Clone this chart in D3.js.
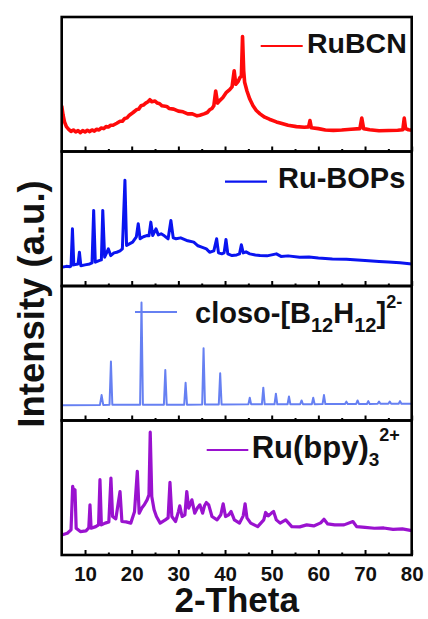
<!DOCTYPE html>
<html><head><meta charset="utf-8">
<script src="https://cdn.jsdelivr.net/npm/d3@7"></script>
<style>
html,body{margin:0;padding:0;background:#fff;}
svg{display:block;font-family:"Liberation Sans",Arial,sans-serif;}
</style></head>
<body>
<svg id="chart" width="428" height="619"></svg>
<script>
// ---------------- data (2-theta, intensity a.u. 0-100 per panel) ----------------
const seriesNames = ["RuBCN", "Ru-BOPs", "closo", "Ru(bpy)3"];
const seriesColors = ["#ff0a0a", "#0a14f0", "#6680f2", "#9a12cf"];

const rubcn = [[5,34],[5.3,27],[5.6,22],[6,18.5],[6.5,16.5],[7,15],[7.5,16],[8,14.5],[8.5,15.5],[9,14],[9.5,15.5],[10,14.5],[10.5,15.8],[11,14.8],[11.5,16],[12,15.2],[12.5,16.5],[13,16],[13.5,17.5],[14,17],[14.5,18.5],[15,18.2],[15.5,19.5],[16,19.5],[16.8,21],[17.5,22.5],[18,22.5],[18.5,24.5],[19,25],[19.5,27],[20.3,29],[21,31],[21.5,31.5],[22,34],[22.5,34.5],[23,36],[23.5,37],[23.9,38.5],[24.3,37],[25,37.5],[25.5,36],[26,35.5],[26.5,34],[27.5,33.5],[28,32],[29,31.5],[30,30],[31,29.5],[32,28],[33,28],[34,26.5],[34.6,27],[35.5,28],[36.2,29],[36.7,31],[37.2,32],[37.6,34],[38,45],[38.4,36],[38.9,38],[39.5,40],[40.3,44],[41,46],[41.5,48],[41.96,60],[42.3,50],[42.8,52],[43.2,55],[43.5,56],[43.75,85.5],[44,60],[44.2,51.5],[44.7,45],[45.3,39],[46,34],[46.7,30.5],[47.5,28],[48.5,25.5],[49.5,24],[51,22],[52,21],[53.5,19.5],[55.3,18.5],[57,18],[57.9,18.3],[58.2,23],[58.5,17.6],[60,17],[61.5,16],[63.2,15.7],[65,16],[67,16.5],[68.9,17],[69.3,24.8],[69.7,17],[71,16.2],[73,15.4],[75,15.6],[77,15.8],[78.1,16.2],[78.4,24.8],[78.7,17],[79.3,16.2],[80,15.8]];

const rubops = [[5,14],[6,14.6],[6.8,14.4],[7.0,14.9],[7.3,42.5],[7.6,15.7],[8.5,16.4],[8.8,25.1],[9.1,15.1],[10,15.7],[11,16.4],[11.5,17.2],[11.85,56.2],[12.2,17.7],[13,18.9],[13.5,19.4],[13.8,56.2],[14.2,21.4],[15,27.6],[15.5,22.6],[16.2,24.6],[16.8,25.1],[17.5,26.1],[18.0,27.6],[18.55,78.6],[18.9,30.1],[19.5,31.3],[20.2,32.6],[21.0,36.6],[21.4,46.3],[21.8,35.1],[22.5,36.6],[23.2,37.5],[23.7,37.3],[24.1,47.5],[24.5,37.5],[25.2,42.5],[25.7,38],[26.3,38.8],[27,37.3],[27.8,35.1],[28.4,48.7],[28.9,35.8],[29.5,35.1],[30.5,35.8],[31,35.1],[32,33.6],[33.3,32.6],[34.2,29.9],[35,28.9],[36,27.6],[36.7,25.1],[37.6,26.1],[38.2,35.1],[38.6,24.6],[39.3,23.9],[39.8,24.6],[40.2,34.6],[40.6,23.9],[41.5,22.6],[42.5,23.1],[43.1,23.9],[43.5,30.6],[43.9,24.6],[44.5,25.4],[45.3,23.9],[46.5,23.1],[47.5,22.6],[49,22.4],[51,23.9],[52,22],[53.5,22.4],[56,21.4],[58,21.6],[60,20.9],[63,20.1],[66,19.8],[70,18.9],[73,18.3],[75,17.9],[77.5,17.2],[79,16.8],[80,16.4]];

const closo = [[5,11.4],[13.2,11.6],[13.55,18.9],[13.9,11.6],[15.25,11.7],[15.55,43.8],[15.85,11.7],[21.8,11.8],[22.1,87.8],[22.4,11.8],[26.9,11.8],[27.2,37.5],[27.5,11.8],[31.25,11.8],[31.55,28.1],[31.85,11.8],[35.1,11.9],[35.4,53.7],[35.7,11.9],[38.66,11.9],[38.96,35.1],[39.26,11.9],[45.0,12],[45.3,16.9],[45.6,12],[47.9,12],[48.2,24.4],[48.5,12],[50.6,12],[50.9,19.9],[51.2,12],[53.4,12.1],[53.7,17.9],[54.0,12.1],[56.1,12.1],[56.4,14.9],[56.7,12.1],[58.6,12.1],[58.9,16.9],[59.2,12.1],[60.9,12.2],[61.2,18.9],[61.5,12.2],[65.7,12.2],[66,14],[66.3,12.2],[68.1,12.3],[68.4,14.9],[68.7,12.3],[70.4,12.3],[70.7,14.4],[71.0,12.3],[72.7,12.4],[73,14],[73.3,12.4],[75.0,12.4],[75.3,14],[75.6,12.4],[77.2,12.5],[77.5,14.4],[77.8,12.5],[80,12.5]];

const rubpy = [[5,14.9],[6.2,16.2],[7.0,18.7],[7.35,51],[7.6,47],[7.85,48.5],[8.1,19.9],[9,17.4],[10.2,17.9],[10.8,20.1],[11.06,37.3],[11.3,19.9],[12.3,21.1],[12.9,22.4],[13.2,56],[13.5,22.4],[14.3,23.7],[15.1,24.6],[15.55,57.2],[15.9,28.6],[16.6,26.9],[17.5,47.2],[17.9,24.9],[18.8,24.6],[19.8,23.7],[20.6,32.1],[21.2,62.2],[21.6,31.1],[22.2,35.1],[22.7,37.3],[23.3,41],[23.7,44.8],[23.97,91.3],[24.3,43.5],[24.8,33.6],[25.3,28.6],[26.1,23.7],[27.2,26.1],[27.8,27.6],[28.2,54],[28.6,28.6],[29.4,24.9],[30.0,32.1],[30.3,36.6],[30.8,28.6],[31.4,29.9],[31.8,47.2],[32.2,34.8],[32.9,41],[33.5,31.1],[34.1,35.1],[34.6,37.3],[35.2,31.1],[35.6,36.6],[36,39],[36.5,37.3],[37.2,28.6],[38.3,26.1],[39.1,29.9],[39.6,38.1],[40.1,28.6],[40.8,29.9],[41.3,32.3],[42.0,26.1],[43.1,23.7],[43.9,29.1],[44.3,38.1],[44.7,27.6],[45.5,23.7],[47,21.1],[48.3,26.1],[48.7,31.6],[49.3,29.1],[50.0,31.3],[50.4,32.3],[51.0,26.1],[51.8,23.7],[53,26.1],[54.3,21.1],[56,20.9],[57.5,22.4],[59,21.6],[60.5,23.9],[61.2,26.6],[62,23.1],[63.5,22.4],[65.5,22.4],[67.4,24.9],[68.2,21.1],[70,20.5],[72,19.9],[74,20.1],[76,19],[78,19.4],[80,18.1]];

const xTickLabels = [10, 20, 30, 40, 50, 60, 70, 80];
const xMinorTicks = [15, 25, 35, 45, 55, 65, 75];
const xLabel = "2-Theta";
const yLabel = "Intensity (a.u.)";

// ---------------- layout ----------------
const svg = d3.select("#chart");
const L = 61.7, R = 411.7, T = 17, B = 555;
const allSeries = [rubcn, rubops, closo, rubpy];

const x = d3.scaleLinear().domain([5, 80]).range([L, R]);
const band = d3.scaleBand().domain(seriesNames).range([T, B]).paddingInner(0).paddingOuter(0);

const widths = [3.6, 3.0, 2.0, 3.2];

seriesNames.forEach((name, i) => {
  const top = band(name), h = band.bandwidth(), bot = top + h;
  const y = d3.scaleLinear().domain([0, 100]).range([bot, top]);
  const g = svg.append("g");
  const cid = "clip" + i;
  svg.append("clipPath").attr("id", cid).append("rect")
    .attr("x", L).attr("y", top).attr("width", R - L).attr("height", h);
  const line = d3.line().x(d => x(d[0])).y(d => y(d[1]));
  g.append("path").datum(allSeries[i])
    .attr("clip-path", `url(#${cid})`)
    .attr("fill", "none").attr("stroke", seriesColors[i])
    .attr("stroke-width", widths[i]).attr("stroke-linejoin", "round")
    .attr("d", line);

  // ticks (inward)
  const ax = d3.axisBottom(x).tickValues(xTickLabels).tickSizeInner(-5).tickSizeOuter(0).tickPadding(11);
  const axG = g.append("g").attr("transform", `translate(0,${bot})`).call(ax);
  axG.select(".domain").remove();
  axG.selectAll(".tick line").attr("stroke", "#000").attr("stroke-width", 2);
  if (i < seriesNames.length - 1) axG.selectAll(".tick text").remove();
  else axG.selectAll(".tick text").attr("font-size", 20.5).attr("font-weight", "bold")
        .attr("fill", "#111").attr("font-family", "Liberation Sans, Arial, sans-serif");
  const mn = d3.axisBottom(x).tickValues(xMinorTicks).tickSizeInner(-2.5).tickSizeOuter(0).tickFormat("");
  const mnG = g.append("g").attr("transform", `translate(0,${bot})`).call(mn);
  mnG.select(".domain").remove();
  mnG.selectAll(".tick line").attr("stroke", "#000").attr("stroke-width", 2);

  // frame
  g.append("rect").attr("x", L).attr("y", top).attr("width", R - L).attr("height", h)
    .attr("fill", "none").attr("stroke", "#000").attr("stroke-width", 2.6);
});

// ---------------- legends ----------------
const legends = [
  {i: 0, x1: 260.7, x2: 302.7, ly: 46, tx: 307, ty: 53.3, fs: 28.5},
  {i: 1, x1: 225, x2: 267, ly: 181.7, tx: 278, ty: 188.3, fs: 29},
  {i: 2, x1: 135, x2: 177, ly: 312, tx: 195, ty: 323, fs: 29},
  {i: 3, x1: 206.7, x2: 248.3, ly: 450, tx: 251.7, ty: 458.3, fs: 31}
];
legends.forEach(lg => {
  svg.append("line").attr("x1", lg.x1).attr("x2", lg.x2).attr("y1", lg.ly).attr("y2", lg.ly)
    .attr("stroke", seriesColors[lg.i]).attr("stroke-width", 2.2);
  const t = svg.append("text").attr("x", lg.tx).attr("y", lg.ty)
    .attr("font-size", lg.fs).attr("font-weight", "bold").attr("fill", "#111");
  if (lg.i === 0) t.text("RuBCN");
  else if (lg.i === 1) t.text("Ru-BOPs");
  else if (lg.i === 2) {
    t.append("tspan").text("closo-[B");
    t.append("tspan").text("12").attr("font-size", 20).attr("dy", 9);
    t.append("tspan").text("H").attr("dy", -9);
    t.append("tspan").text("12").attr("font-size", 20).attr("dy", 9);
    t.append("tspan").text("]").attr("dy", -9);
    t.append("tspan").text("2-").attr("font-size", 18).attr("dy", -15);
  } else {
    t.append("tspan").text("Ru(bpy)");
    t.append("tspan").text("3").attr("font-size", 19).attr("dy", 8);
    t.append("tspan").text("2+").attr("font-size", 18).attr("dy", -25);
  }
});

// ---------------- axis titles ----------------
svg.append("text").attr("x", (L + R) / 2).attr("y", 612).attr("text-anchor", "middle")
  .attr("font-size", 35).attr("font-weight", "bold").attr("fill", "#111").text(xLabel);
svg.append("text").attr("transform", "translate(44,304) rotate(-90)").attr("text-anchor", "middle")
  .attr("font-size", 36.5).attr("font-weight", "bold").attr("fill", "#111").text(yLabel);
</script>
</body></html>
